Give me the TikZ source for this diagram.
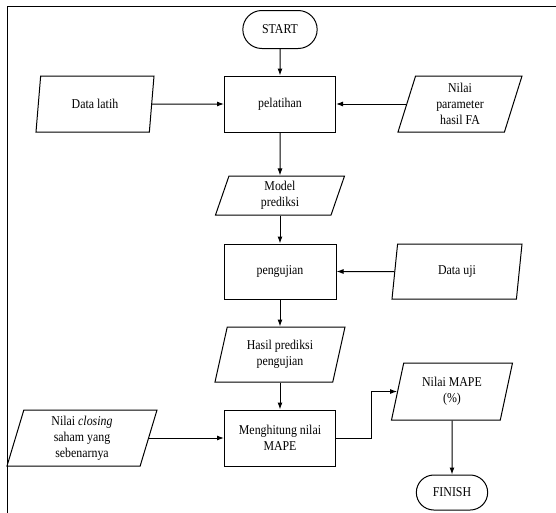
\documentclass[tikz,border=0pt]{standalone}
\usepackage{fontspec}
\setmainfont{Liberation Serif}[FakeStretch=0.88]
\usetikzlibrary{shapes.geometric,shapes.misc,arrows.meta}

\tikzset{
  proc/.style={draw, line width=1pt, minimum width=111pt, minimum height=56pt, align=center},
  io/.style={draw, line width=1pt, trapezium, trapezium left angle=68, trapezium right angle=112,
    trapezium stretches body, minimum height=56pt, inner sep=1pt, align=center},
  term/.style={draw, line width=1pt, rounded rectangle, minimum height=38pt, align=center},
  flow/.style={line width=1pt, -{Latex[length=7pt,width=5pt]}},
}

\begin{document}
\begin{tikzpicture}[x=1pt, y=-1pt, font=\fontsize{13.5}{16}\selectfont]
\useasboundingbox (0,0) rectangle (556,512);
\clip (0,0) rectangle (556,512);
\draw[line width=1pt] (7,6) rectangle (580,540);

\node[term, minimum width=81pt] (start) at (280,29.5) {START};
\node[proc] (latihan) at (280,104) {pelatihan};
\node[io, minimum width=118pt] (datalatih) at (95,104) {Data latih};
\node[io, minimum width=124pt] (param) at (460,104) {Nilai\\parameter\\hasil FA};
\node[io, minimum width=129pt, minimum height=39pt, trapezium left angle=66, trapezium right angle=114] (model) at (280,195.5) {Model\\prediksi};
\node[proc, minimum width=112pt, minimum height=55pt] (uji) at (280,271.5) {pengujian};
\node[io, minimum width=130pt, minimum height=55pt] (datauji) at (457,271.5) {Data uji};
\node[io, minimum width=130pt, minimum height=55pt] (hasil) at (280,354.5) {Hasil prediksi\\pengujian};
\node[proc] (hitung) at (280,438) {Menghitung nilai\\MAPE};
\node[io, minimum width=150pt, trapezium left angle=70, trapezium right angle=110] (closing) at (82,438) {Nilai \textit{closing}\\saham yang\\sebenarnya};
\node[io, minimum width=121pt, minimum height=57pt] (nilaimape) at (452,391.5) {Nilai MAPE\\(\%)};
\node[term, minimum width=78pt, minimum height=35pt] (finish) at (452,492.5) {FINISH};

\draw[flow] (start) -- (latihan);
\draw[flow] (datalatih) -- (latihan);
\draw[flow] (param) -- (latihan);
\draw[flow] (latihan) -- (model);
\draw[flow] (model) -- (uji);
\draw[flow] (datauji) -- (uji);
\draw[flow] (uji) -- (hasil);
\draw[flow] (hasil) -- (hitung);
\draw[flow] (closing) -- (hitung);
\draw[flow] (hitung.east) -- ++(35,0) |- (nilaimape.west);
\draw[flow] (nilaimape) -- (finish);
\end{tikzpicture}
\end{document}
